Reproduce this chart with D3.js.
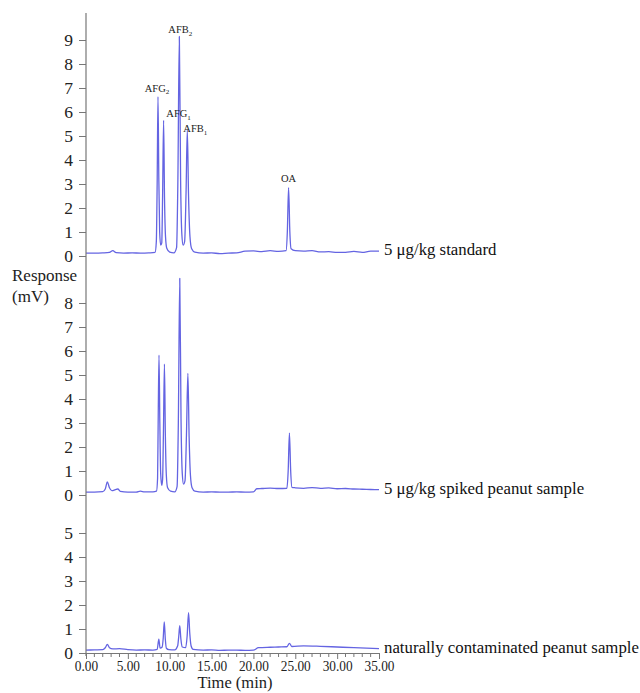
<!DOCTYPE html>
<html lang="en">
<head>
  <meta charset="UTF-8">
  <title>HPLC chromatograms</title>
  <style>
    body { margin: 0; background: #fff; }
    svg text { font-family: "Liberation Serif", "Times New Roman", serif; }
  </style>
</head>
<body>
  <div id="chart"></div>

  <script src="https://d3js.org/d3.v7.min.js"></script>
  <script>
    // ---- data ----
    const timeTicks = [0, 5, 10, 15, 20, 25, 30, 35];
    const traceNames = ['5 μg/kg standard', '5 μg/kg spiked peanut sample', 'naturally contaminated peanut sample'];
    const yTicksStandard = [0, 1, 2, 3, 4, 5, 6, 7, 8, 9];
    const yTicksSpiked = [0, 1, 2, 3, 4, 5, 6, 7, 8];
    const yTicksNatural = [0, 1, 2, 3, 4, 5];

    // [time (min), response (mV)]
    const standardTrace = [
      [0, 0.12], [1, 0.12], [2, 0.13], [2.8, 0.15], [3.2, 0.22], [3.6, 0.14], [4.5, 0.12], [5.5, 0.13],
      [6.5, 0.12], [7.5, 0.13], [8.25, 0.15],
      [8.4, 0.6], [8.5, 3.0], [8.6, 6.64], [8.7, 3.2], [8.8, 1.0], [8.92, 0.45],
      [9.05, 0.55], [9.15, 2.5], [9.27, 5.65], [9.38, 2.4], [9.5, 0.8], [9.65, 0.32], [10, 0.16], [10.5, 0.13],
      [10.82, 0.35], [10.97, 3.0], [11.15, 9.15], [11.3, 3.2], [11.45, 0.9], [11.6, 0.45],
      [11.78, 0.6], [11.95, 2.6], [12.1, 5.25], [12.25, 2.5], [12.42, 0.8], [12.62, 0.3], [13, 0.16],
      [14, 0.12], [15, 0.13], [16, 0.1], [17, 0.12], [18, 0.13], [19, 0.2], [20, 0.21], [21, 0.18],
      [22, 0.22], [23, 0.19], [23.9, 0.22],
      [24.05, 1.0], [24.2, 2.85], [24.35, 1.0], [24.5, 0.3], [25, 0.22], [26, 0.2], [27, 0.22],
      [28, 0.17], [29, 0.18], [30, 0.15], [31, 0.15], [32, 0.19], [33, 0.15], [34, 0.2], [35, 0.2]
    ];

    const spikedTrace = [
      [0, 0.12], [1, 0.12], [2, 0.14], [2.3, 0.25], [2.55, 0.55], [2.8, 0.3], [3.1, 0.18], [3.5, 0.22],
      [3.8, 0.25], [4.1, 0.15], [5, 0.12], [6, 0.12], [6.5, 0.16], [7, 0.13], [8, 0.13], [8.42, 0.16],
      [8.55, 0.7], [8.62, 3.0], [8.72, 5.83], [8.82, 3.0], [8.92, 0.9], [9.05, 0.4],
      [9.15, 0.65], [9.25, 2.6], [9.37, 5.45], [9.48, 2.5], [9.6, 0.8], [9.75, 0.3], [10.1, 0.16], [10.6, 0.13],
      [10.88, 0.35], [11.03, 3.0], [11.2, 9.03], [11.35, 3.2], [11.5, 0.9], [11.65, 0.45],
      [11.83, 0.6], [12.0, 2.5], [12.17, 5.07], [12.32, 2.4], [12.48, 0.8], [12.67, 0.3], [13, 0.16],
      [14, 0.12], [15, 0.13], [16, 0.12], [17, 0.12], [18, 0.13], [19, 0.12], [20, 0.13], [20.4, 0.26],
      [21, 0.27], [22, 0.29], [23, 0.27], [24, 0.28],
      [24.15, 1.0], [24.3, 2.58], [24.45, 1.0], [24.6, 0.32], [25, 0.3], [26, 0.28], [27, 0.31],
      [28, 0.28], [29, 0.3], [30, 0.26], [31, 0.27], [32, 0.25], [33, 0.24], [34, 0.23], [35, 0.22]
    ];

    const naturalTrace = [
      [0, 0.12], [1, 0.13], [2, 0.14], [2.3, 0.22], [2.55, 0.36], [2.8, 0.22], [3.2, 0.17], [4, 0.18],
      [5, 0.14], [6, 0.12], [7, 0.13], [8, 0.12], [8.5, 0.15], [8.7, 0.58], [8.85, 0.2], [9.1, 0.25],
      [9.22, 0.6], [9.35, 1.3], [9.48, 0.55], [9.6, 0.2], [9.9, 0.14], [10.6, 0.13],
      [10.95, 0.3], [11.08, 0.7], [11.2, 1.14], [11.33, 0.6], [11.5, 0.25],
      [11.9, 0.22], [12.08, 0.7], [12.25, 1.68], [12.4, 0.8], [12.55, 0.3], [12.8, 0.15],
      [14, 0.12], [15, 0.13], [16, 0.11], [17, 0.12], [18, 0.12], [19, 0.11], [20, 0.12],
      [20.6, 0.22], [22, 0.24], [23, 0.25], [24, 0.26], [24.3, 0.4], [24.6, 0.27], [26, 0.3],
      [28, 0.28], [30, 0.25], [32, 0.22], [35, 0.18]
    ];

    const peakNames = ['AFG', 'AFG', 'AFB', 'AFB', 'OA'];
    const peakSubs = ['2', '1', '2', '1', ''];
    const peakTimes = [8.6, 9.27, 11.15, 12.1, 24.2];
    const peakHeights = [6.64, 5.65, 9.15, 5.25, 2.85];

    // ---- layout ----
    const SVGWIDTH = 640;
    const SVGHEIGHT = 693;
    const UNIT = 24;                       // px per mV
    const panelZero = [256, 495, 653];     // y of 0 mV for each panel
    const AXIS_TOP = 13;
    const LINE_COLOR = '#6464e2';
    const AXIS_COLOR = '#777';
    const TEXT_COLOR = '#222';
    // label offsets (px) from peak apex
    const peakLabelDx = [-1, 15, 1, 8, 0];
    const peakLabelDy = [-5, -3, -3, 2, -6];

    const xScale = d3.scaleLinear().domain([0, 35]).range([86, 379]);

    const svg = d3.select('#chart')
      .append('svg')
      .attr('width', SVGWIDTH)
      .attr('height', SVGHEIGHT)
      .attr('viewBox', `0 0 ${SVGWIDTH} ${SVGHEIGHT}`);

    const panels = [
      { trace: standardTrace, ticks: yTicksStandard, name: traceNames[0] },
      { trace: spikedTrace, ticks: yTicksSpiked, name: traceNames[1] },
      { trace: naturalTrace, ticks: yTicksNatural, name: traceNames[2] }
    ];

    panels.forEach((p, i) => {
      const zero = panelZero[i];
      const yScale = d3.scaleLinear().domain([0, 10]).range([zero, zero - 10 * UNIT]);
      p.yScale = yScale;

      // left axis ticks
      const yAxis = d3.axisLeft(yScale).tickValues(p.ticks).tickSize(7).tickPadding(6).tickFormat(d3.format('d'));
      const g = svg.append('g')
        .attr('transform', `translate(${xScale(0)},0)`)
        .call(yAxis);
      g.select('.domain').remove();
      g.selectAll('line').attr('stroke', AXIS_COLOR);
      g.selectAll('text')
        .attr('font-size', '17.5px')
        .attr('fill', TEXT_COLOR)
        .attr('font-family', '"Liberation Serif", serif');

      // trace
      const line = d3.line()
        .x(d => xScale(d[0]))
        .y(d => yScale(d[1]))
        .curve(d3.curveMonotoneX);
      svg.append('path')
        .datum(p.trace)
        .attr('fill', 'none')
        .attr('stroke', LINE_COLOR)
        .attr('stroke-width', 1.3)
        .attr('stroke-linejoin', 'round')
        .attr('d', line);

      // trace name at right end
      const last = p.trace[p.trace.length - 1];
      svg.append('text')
        .attr('x', xScale(35) + 5)
        .attr('y', yScale(last[1]) + 4)
        .attr('font-size', '16.8px')
        .attr('fill', '#111')
        .text(p.name);
    });

    // continuous vertical axis line
    svg.append('line')
      .attr('x1', xScale(0)).attr('x2', xScale(0))
      .attr('y1', AXIS_TOP).attr('y2', panelZero[2] + 3)
      .attr('stroke', AXIS_COLOR)
      .attr('stroke-width', 1.2);

    // bottom time axis
    const xAxisG = svg.append('g')
      .attr('transform', `translate(0,${panelZero[2]})`)
      .call(d3.axisBottom(xScale).tickValues(timeTicks).tickSize(6).tickPadding(1).tickFormat(d3.format('.2f')));
    xAxisG.select('.domain').attr('stroke', AXIS_COLOR);
    xAxisG.selectAll('line').attr('stroke', AXIS_COLOR);
    xAxisG.selectAll('text')
      .attr('font-size', '15.5px')
      .attr('fill', TEXT_COLOR)
      .attr('font-family', '"Liberation Serif", serif')
      .attr('transform', 'scale(0.86,1)');

    // minor ticks every minute
    svg.append('g').selectAll('line')
      .data(d3.range(0, 36).filter(t => t % 5 !== 0))
      .enter()
      .append('line')
      .attr('x1', d => xScale(d)).attr('x2', d => xScale(d))
      .attr('y1', panelZero[2]).attr('y2', panelZero[2] + 4)
      .attr('stroke', AXIS_COLOR);

    // axis titles
    svg.append('text')
      .attr('x', xScale(17.8)).attr('y', 688)
      .attr('text-anchor', 'middle')
      .attr('font-size', '16.5px')
      .attr('fill', TEXT_COLOR)
      .text('Time (min)');
    svg.append('text')
      .attr('x', 12).attr('y', 281)
      .attr('font-size', '17px')
      .attr('fill', TEXT_COLOR)
      .text('Response');
    svg.append('text')
      .attr('x', 12).attr('y', 302)
      .attr('font-size', '17px')
      .attr('fill', TEXT_COLOR)
      .text('(mV)');

    // peak labels on the standard trace
    const topY = panels[0].yScale;
    peakNames.forEach((name, i) => {
      const t = svg.append('text')
        .attr('x', xScale(peakTimes[i]) + peakLabelDx[i])
        .attr('y', topY(peakHeights[i]) + peakLabelDy[i])
        .attr('text-anchor', 'middle')
        .attr('font-size', '10.5px')
        .attr('fill', TEXT_COLOR);
      t.append('tspan').text(name);
      if (peakSubs[i]) {
        t.append('tspan')
          .attr('font-size', '7px')
          .attr('dy', 2.5)
          .text(peakSubs[i]);
      }
    });
  </script>
</body>
</html>
